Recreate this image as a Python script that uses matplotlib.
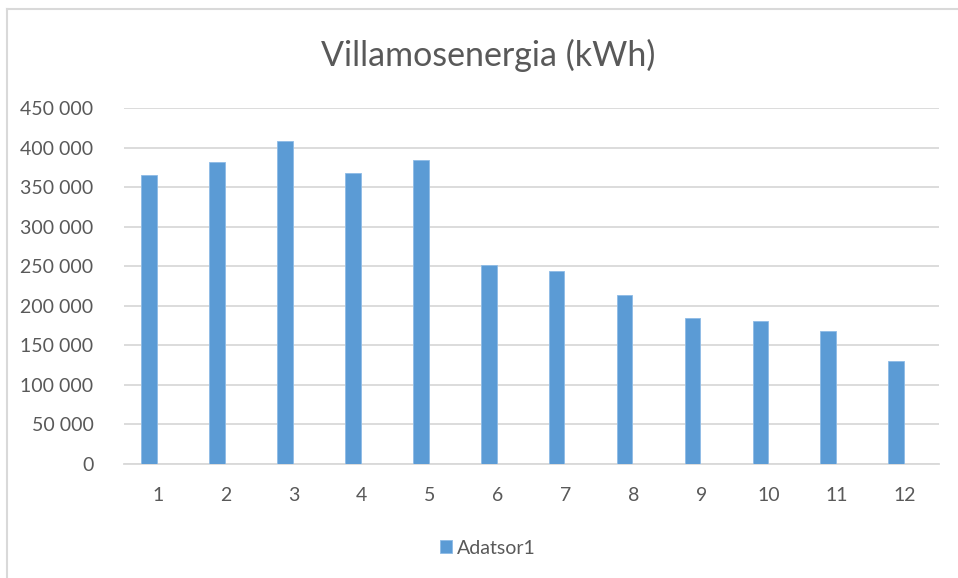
# Villamosenergia havi fogyasztás oszlopdiagram

import matplotlib.pyplot as plt
from matplotlib.lines import Line2D
from matplotlib.ticker import FuncFormatter

honapok = [1, 2, 3, 4, 5, 6, 7, 8, 9, 10, 11, 12]
kwh = [366000, 382000, 408000, 368000, 384000, 251000,
       244000, 213000, 184000, 181000, 168000, 130000]
sorozat = "Adatsor1"

szurke = "#595959"
kek = "#5b9bd5"
racs = "#d9d9d9"

plt.rcParams["font.family"] = ["Lato", "DejaVu Sans"]

fig = plt.figure(figsize=(9.58, 5.78), dpi=100)
ax = fig.add_axes([124 / 958, 114.3 / 578, 815 / 958, 355.4 / 578])

# oszlopok kicsit balra tolva, mint az Excelben
x = [h - 0.13 for h in honapok]
ax.bar(x, kwh, width=0.23, color=kek, edgecolor="#8dbbe6", linewidth=0.6,
       label=sorozat, zorder=3)

ax.set_xlim(0.5, 12.5)
ax.set_ylim(0, 450000)
ax.set_yticks(range(0, 450001, 50000))
ax.set_xticks(honapok)
ax.set_xticklabels([str(h) for h in honapok])
ax.yaxis.set_major_formatter(FuncFormatter(lambda v, p: f"{v:,.0f}".replace(",", " ")))

ax.grid(axis="y", color=racs, linewidth=1.3, zorder=0)
for s in ["top", "right", "left"]:
    ax.spines[s].set_visible(False)
ax.spines["bottom"].set_color(racs)
ax.spines["bottom"].set_linewidth(1.3)
ax.tick_params(length=0, labelsize=14, colors=szurke)
ax.tick_params(axis="y", pad=22)
ax.tick_params(axis="x", pad=17)

fig.text(488 / 958, 1 - 55 / 578, "Villamosenergia (kWh)", ha="center", va="center",
         fontsize=24.5, color=szurke)

fig.legend(loc="center", bbox_to_anchor=(488 / 958, 1 - 548 / 578), frameon=False,
           fontsize=14, labelcolor=szurke, handlelength=0.6, handleheight=0.6,
           handletextpad=0.3)

# diagram kerete (csak felső és bal oldal látszik)
fig.add_artist(Line2D([7 / 958, 1], [1 - 9 / 578, 1 - 9 / 578], color=racs, linewidth=1.5))
fig.add_artist(Line2D([7 / 958, 7 / 958], [0, 1 - 9 / 578], color=racs, linewidth=1.5))

plt.savefig("out.png", dpi=100)
